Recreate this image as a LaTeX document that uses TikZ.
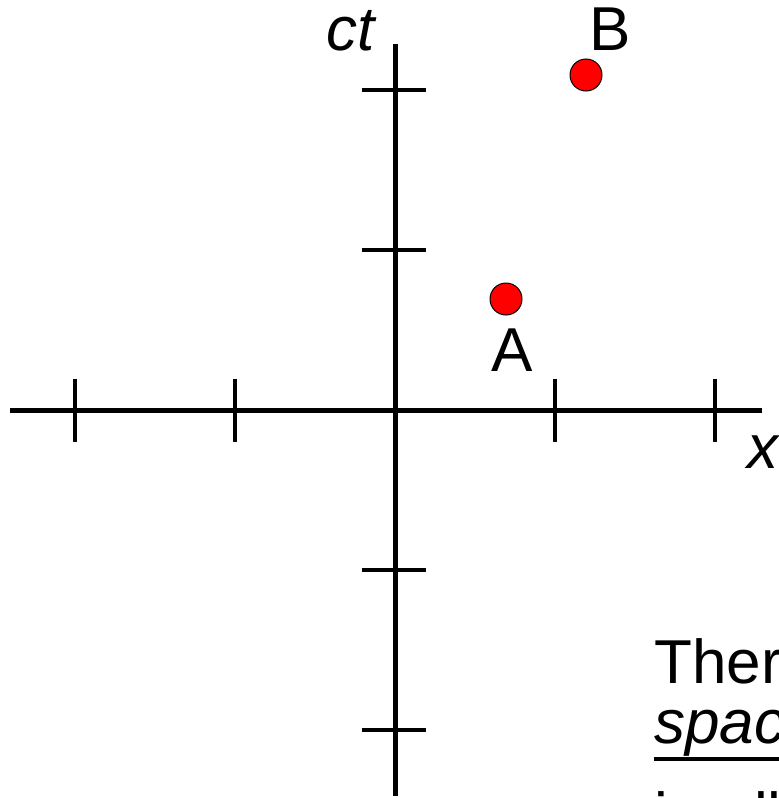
\documentclass[tikz,border=0pt]{standalone}
\usepackage{fontspec}
\setmainfont{Liberation Sans}
\usepackage{tikz}
\usetikzlibrary{calc,positioning}

\tikzset{
  axisline/.style={line width=5pt},
  tickline/.style={line width=3.5pt},
  event/.style={circle,draw=black,line width=1pt,fill=red,minimum size=32pt,inner sep=0pt},
  lbl/.style={inner sep=0pt,font=\fontsize{62}{72}\selectfont}
}

\begin{document}
\begin{tikzpicture}[x=1pt,y=-1pt]
  \useasboundingbox (0,0) rectangle (779,798);
  \clip (0,0) rectangle (779,798);

  % axes
  \coordinate (O) at (395,410);
  \draw[axisline] (10,410) -- (762,410);
  \draw[axisline] (395,44) -- (395,796);

  \foreach \t in {-320,-160,160,320} {
    \draw[tickline] ($(O)+(\t,-31)$) -- ($(O)+(\t,32)$);
    \draw[tickline] ($(O)+(-33,\t)$) -- ($(O)+(31,\t)$);
  }

  \node[lbl,anchor=base west] (ctlbl) at (326,50) {\itshape ct};
  \node[lbl,anchor=base west] (xlbl) at (747,468) {\itshape x};

  % events
  \node[event] (A) at (506,299) {};
  \node[event] (B) at (586,75) {};
  \node[lbl,anchor=base] (Albl) at (512,371) {A};
  \node[lbl,anchor=base] (Blbl) at (610,50) {B};

  % cut-off slide text
  \node[lbl,anchor=base west] (line1) at (654,683) {There};
  \node[lbl,anchor=base west] (line2) at (654,743) {\itshape spacelike};
  \draw[line width=4pt] ([yshift=-16pt]line2.base west) -- ([yshift=-16pt]line2.base east);
  \node[lbl,anchor=base west] (line3) at (654,836) {in all};
\end{tikzpicture}
\end{document}
